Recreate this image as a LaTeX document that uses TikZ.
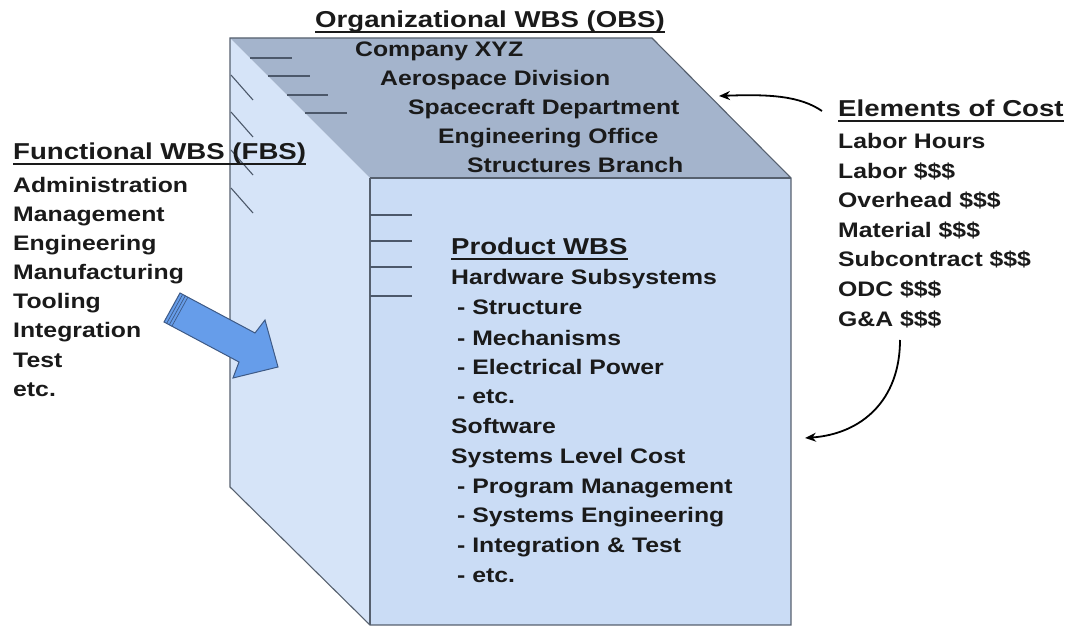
\documentclass[tikz,border=0pt]{standalone}
\usepackage{fontspec}
\usetikzlibrary{arrows.meta}
\newfontfamily\hdfont{Liberation Sans}[FakeStretch=1.2]
\newfontfamily\itfont{Liberation Sans}[FakeStretch=1.18]
\definecolor{topface}{HTML}{A4B4CC}
\definecolor{frontface}{HTML}{CADCF5}
\definecolor{leftface}{HTML}{D6E4F8}
\definecolor{edgeclr}{HTML}{56606E}
\definecolor{lineclr}{HTML}{4C586A}
\definecolor{txt}{HTML}{1A1A1A}
\definecolor{arrowfill}{HTML}{669DEA}
\definecolor{arrowedge}{HTML}{3E5A86}
\begin{document}
\begin{tikzpicture}[x=1pt,y=-1pt,
  hd/.style={anchor=base west, inner sep=0pt, text=txt, font=\hdfont\bfseries\fontsize{23}{23}\selectfont},
  it/.style={anchor=base west, inner sep=0pt, text=txt, font=\itfont\bfseries\fontsize{21}{21}\selectfont},
  ul/.style={draw=txt, line width=1.4pt},
  face/.style={draw=edgeclr, line width=1.1pt, line join=miter},
  tick/.style={draw=lineclr, line width=1.1pt},
  curvearrow/.style={draw=black, line width=1.8pt, -{Stealth[length=11pt,width=9pt]}},
  blockarrow/.style={fill=arrowfill, draw=arrowedge, line width=1pt, line join=miter}]
\useasboundingbox (0,0) rectangle (1066,628);

% cube corners
\coordinate (A) at (230,38);
\coordinate (B) at (652,38);
\coordinate (C) at (791,178);
\coordinate (D) at (370,178);
\coordinate (E) at (370,625);
\coordinate (F) at (791,625);
\coordinate (G) at (230,487);

% faces
\fill[leftface] (A) -- (D) -- (E) -- (G) -- cycle;
\fill[topface] (A) -- (B) -- (C) -- (D) -- cycle;
\fill[frontface] (D) -- (C) -- (F) -- (E) -- cycle;
\draw[face] (A) -- (B) -- (C) -- (F) -- (E) -- (G) -- cycle;
\draw[face] (D) -- (C);
\draw[face] (D) -- (E);

% ticks on top face
\draw[tick] (250,58) -- (292,58);
\draw[tick] (268,76) -- (310,76);
\draw[tick] (287,95) -- (328,95);
\draw[tick] (305,113) -- (347,113);
% ticks on left face
\draw[tick] (231,75) -- (253,100);
\draw[tick] (231,112) -- (253,137);
\draw[tick] (231,150) -- (253,175);
\draw[tick] (231,188) -- (253,213);
% ticks on front face
\draw[tick] (370,215) -- (412,215);
\draw[tick] (370,241) -- (412,241);
\draw[tick] (370,267) -- (412,267);
\draw[tick] (370,296) -- (412,296);

% headings
\node[hd] (obs) at (315,28) {Organizational WBS (OBS)};
\draw[ul] ([yshift=-4pt]obs.base west) -- ([yshift=-4pt]obs.base east);
\node[hd] (fbs) at (13,160) {Functional WBS (FBS)};
\draw[ul] ([yshift=-4pt]fbs.base west) -- ([yshift=-4pt]fbs.base east);
\node[hd] (pwbs) at (451,255) {Product WBS};
\draw[ul] ([yshift=-4pt]pwbs.base west) -- ([yshift=-4pt]pwbs.base east);
\node[hd] (eoc) at (838,117) {Elements of Cost};
\draw[ul] ([yshift=-4pt]eoc.base west) -- ([yshift=-4pt]eoc.base east);

% organizational items
\node[it] (o1) at (355,57) {Company XYZ};
\node[it] (o2) at (380,86) {Aerospace Division};
\node[it] (o3) at (408,115) {Spacecraft Department};
\node[it] (o4) at (438,144) {Engineering Office};
\node[it] (o5) at (467,173) {Structures Branch};

% functional items
\node[it] (f1) at (13,193) {Administration};
\node[it] (f2) at (13,222) {Management};
\node[it] (f3) at (13,251) {Engineering};
\node[it] (f4) at (13,280) {Manufacturing};
\node[it] (f5) at (13,309) {Tooling};
\node[it] (f6) at (13,338) {Integration};
\node[it] (f7) at (13,367) {Test};
\node[it] (f8) at (13,396) {etc.};

% product items
\node[it] (p1) at (451,285) {Hardware Subsystems};
\node[it] (p2) at (457,315) {- Structure};
\node[it] (p3) at (457,345) {- Mechanisms};
\node[it] (p4) at (457,374) {- Electrical Power};
\node[it] (p5) at (457,403) {- etc.};
\node[it] (p6) at (451,433) {Software};
\node[it] (p7) at (451,463) {Systems Level Cost};
\node[it] (p8) at (457,493) {- Program Management};
\node[it] (p9) at (457,522) {- Systems Engineering};
\node[it] (p10) at (457,552) {- Integration \& Test};
\node[it] (p11) at (457,582) {- etc.};

% cost items
\node[it] (c1) at (838,149) {Labor Hours};
\node[it] (c2) at (838,179) {Labor \$\$\$};
\node[it] (c3) at (838,208) {Overhead \$\$\$};
\node[it] (c4) at (838,238) {Material \$\$\$};
\node[it] (c5) at (838,267) {Subcontract \$\$\$};
\node[it] (c6) at (838,297) {ODC \$\$\$};
\node[it] (c7) at (838,327) {G\&A \$\$\$};

% curved arrows
\coordinate (k1s) at (822,111);
\coordinate (k1e) at (719,96);
\draw[curvearrow] (k1s) .. controls (800,96) and (770,94) .. (k1e);
\coordinate (k2s) at (900,340);
\coordinate (k2e) at (805,438);
\draw[curvearrow] (k2s) .. controls (900,400) and (862,434) .. (k2e);

% block arrow
\coordinate (T1) at (180,293);
\coordinate (T2) at (164,322);
\draw[blockarrow] (T1) -- (255,333) -- (265,320) -- (278,367) -- (233,378) -- (239,362) -- (T2) -- cycle;
\draw[draw=arrowedge, line width=0.7pt] ([shift={(2.6,1.5)}]T1) -- ([shift={(2.6,1.5)}]T2);
\draw[draw=arrowedge, line width=0.7pt] ([shift={(5.2,3)}]T1) -- ([shift={(5.2,3)}]T2);
\draw[draw=arrowedge, line width=0.7pt] ([shift={(7.8,4.4)}]T1) -- ([shift={(7.8,4.4)}]T2);
\end{tikzpicture}
\end{document}
